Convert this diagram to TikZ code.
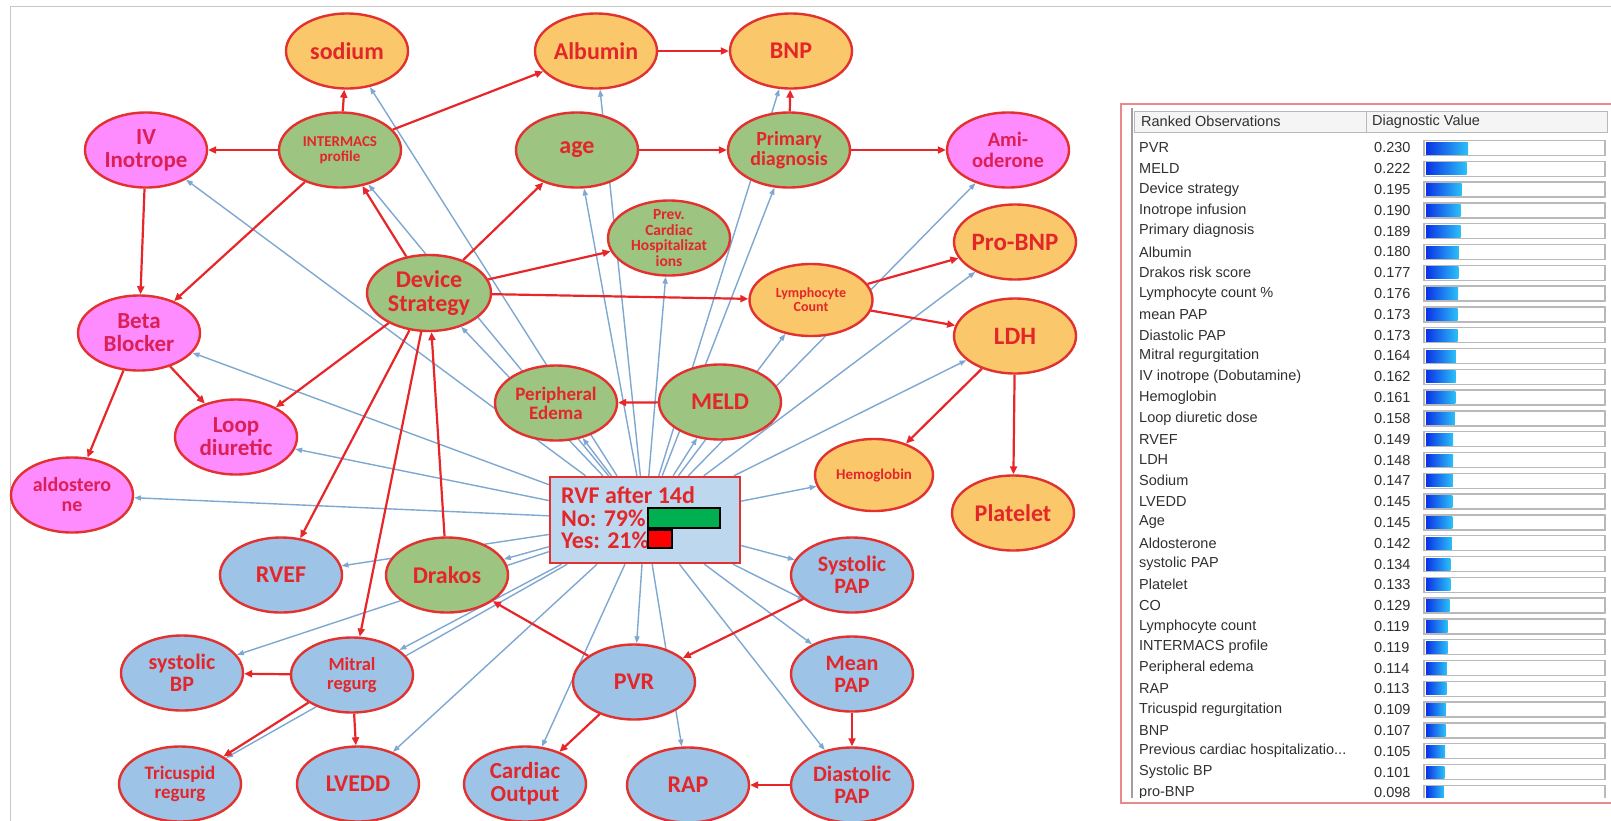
\documentclass[tikz,border=0pt]{standalone}
\usepackage{fontspec}
\newfontfamily\carl{Carlito}
\newfontfamily\tabf{Liberation Sans}
\usetikzlibrary{shapes.geometric,arrows.meta}
\definecolor{nred}{HTML}{E3312F}
\definecolor{tred}{HTML}{E3262A}
\definecolor{tpink}{HTML}{DC1F55}
\definecolor{forange}{HTML}{FAC86B}
\definecolor{fgreen}{HTML}{9DC480}
\definecolor{fpink}{HTML}{FF8CFF}
\definecolor{fblue}{HTML}{9DC3E6}
\definecolor{fbox}{HTML}{BDD7EE}
\definecolor{eblue}{HTML}{7EA8D2}
\definecolor{ered}{HTML}{E8262A}
\definecolor{tabred}{HTML}{E88A8A}
\definecolor{tabtxt}{HTML}{303030}
\definecolor{bar1}{HTML}{0A32E6}
\definecolor{bar2}{HTML}{2CC0F8}
\definecolor{bgreen}{HTML}{00B050}
\pgfdeclarelayer{back}
\pgfdeclarelayer{bg}
\pgfsetlayers{back,bg,main}
\newcommand\fsz[1]{\fontsize{#1}{#1}\selectfont}
\newcommand\tdots{...}
\tikzset{
  obsbase/.style={ellipse, draw=nred, line width=2.4pt, minimum width=122pt, minimum height=75pt,
    inner sep=-20pt, align=center, text=tred, font=\carl\bfseries\fsz{24}},
  nOr/.style={obsbase, fill=forange},
  nGr/.style={obsbase, fill=fgreen},
  nPk/.style={obsbase, fill=fpink, text=tpink},
  nBl/.style={obsbase, fill=fblue},
  fz/.style={font=\carl\bfseries\fsz{#1}},
  redge/.style={draw=ered, line width=2.2pt, -{Triangle[length=8pt,width=7pt]}},
  bedge/.style={draw=eblue, line width=1.4pt, -{Triangle[length=7pt,width=5pt]}},
  tlab/.style={anchor=west, inner sep=0pt, font=\tabf\fontsize{14.5}{15}\selectfont, text=tabtxt},
  barbox/.style={draw=gray!55, line width=1.5pt, fill=white},
  hdr/.style={draw=gray!55, line width=1pt, fill=gray!8},
  rvftxt/.style={anchor=west, inner sep=0pt, font=\carl\bfseries\fsz{24}, text=tred}
}
\begin{document}
\begin{tikzpicture}[x=1pt,y=-1pt]
\useasboundingbox (0,0) rectangle (1611,820);
\begin{pgfonlayer}{back}
\fill[white] (0,0) rectangle (1611,820);
\draw[gray!45, line width=1pt] (10,821) -- (10,6) -- (1612,6);
\end{pgfonlayer}

% nodes
\node[nOr] (sodium) at (347,51) {sodium};
\node[nOr] (albumin) at (596,51) {Albumin};
\node[nOr] (bnp) at (791,51) {BNP};
\node[nPk, fz=23] (ivino) at (146,150) {IV\\Inotrope};
\node[nGr, fz=15] (intermacs) at (340,150) {INTERMACS\\profile};
\node[nGr] (age) at (577,150) {age};
\node[nGr, fz=20] (primary) at (789,150) {Primary\\diagnosis};
\node[nPk, fz=20.5] (amio) at (1008,150) {Ami-\\oderone};
\node[nGr, fz=15.5] (prevcard) at (669,238) {Prev.\\Cardiac\\Hospitalizat\\ions};
\node[nOr, fz=25] (probnp) at (1015,242) {Pro-BNP};
\node[nGr, minimum width=124pt, minimum height=76pt] (device) at (429,293) {Device\\Strategy};
\node[nOr, fz=14, minimum width=123pt, minimum height=72pt] (lympho) at (811,300) {Lymphocyte\\Count};
\node[nPk, fz=23] (beta) at (139,333) {Beta\\Blocker};
\node[nOr, fz=25] (ldh) at (1015,336) {LDH};
\node[nGr, fz=19] (periph) at (556,403) {Peripheral\\Edema};
\node[nGr] (meld) at (720,402) {MELD};
\node[nPk, fz=23] (loop) at (236,437) {Loop\\diuretic};
\node[nOr, fz=15, minimum width=118pt, minimum height=72pt] (hemo) at (874,475) {Hemoglobin};
\node[nPk, fz=20] (aldo) at (72,495) {aldostero\\ne};
\node[nOr] (platelet) at (1013,513) {Platelet};
\node[nBl] (rvef) at (281,575) {RVEF};
\node[nGr] (drakos) at (447,575) {Drakos};
\node[nBl, fz=22] (syspap) at (852,575) {Systolic\\PAP};
\node[nBl, fz=22] (sysbp) at (182,673) {systolic\\BP};
\node[nBl, fz=18.5] (mitral) at (352,675) {Mitral\\regurg};
\node[nBl] (pvr) at (634,682) {PVR};
\node[nBl, fz=22] (meanpap) at (852,674) {Mean\\PAP};
\node[nBl, fz=19] (tricus) at (180,784) {Tricuspid\\regurg};
\node[nBl] (lvedd) at (358,784) {LVEDD};
\node[nBl, fz=23] (cardout) at (525,784) {Cardiac\\Output};
\node[nBl] (rap) at (688,785) {RAP};
\node[nBl, fz=22] (diastpap) at (852,785) {Diastolic\\PAP};

% RVF box
\node[draw=nred, fill=fbox, line width=2.4pt, minimum width=190pt, minimum height=86pt, inner sep=0pt] (rvf) at (645,520) {};
\node[rvftxt] (rvf1) at (561,495) {RVF after 14d};
\node[rvftxt] (rvf2) at (561,518) {No: 79\%};
\node[rvftxt] (rvf3) at (561,540) {Yes: 21\%};
\draw[black, line width=1.5pt, fill=bgreen] (648,508) rectangle (720,528);
\draw[black, line width=1.5pt, fill=red] (648,530) rectangle (672,548);

% blue edges (behind nodes)
\begin{pgfonlayer}{bg}
\foreach \t in {sodium,albumin,bnp,ivino,intermacs,age,primary,amio,prevcard,probnp,device,lympho,beta,ldh,periph,meld,loop,hemo,aldo,rvef,drakos,sysbp,mitral,lvedd,tricus,cardout,pvr,rap,syspap,meanpap,diastpap}
  \draw[bedge] (rvf) -- (\t);
\draw[bedge] (rvf) -- (syspap.208);
\end{pgfonlayer}

% red edges
\draw[redge] (intermacs) -- (sodium);
\draw[redge] (intermacs) -- (albumin);
\draw[redge] (intermacs) -- (ivino);
\draw[redge] (intermacs) -- (beta);
\draw[redge] (ivino) -- (beta);
\draw[redge] (albumin) -- (bnp);
\draw[redge] (age) -- (primary);
\draw[redge] (primary) -- (bnp);
\draw[redge] (primary) -- (amio);
\draw[redge] (device) -- (intermacs);
\draw[redge] (device) -- (age);
\draw[redge] (device) -- (prevcard);
\draw[redge] (device) -- (lympho);
\draw[redge] (device) -- (loop);
\draw[redge] (device) -- (rvef);
\draw[redge] (device) -- (mitral);
\draw[redge] (drakos) -- (device);
\draw[redge] (beta) -- (loop);
\draw[redge] (beta) -- (aldo);
\draw[redge] (lympho) -- (probnp);
\draw[redge] (lympho) -- (ldh);
\draw[redge] (ldh) -- (hemo);
\draw[redge] (ldh) -- (platelet);
\draw[redge] (meld) -- (periph);
\draw[redge] (pvr) -- (drakos);
\draw[redge] (syspap) -- (pvr);
\draw[redge] (pvr) -- (cardout);
\draw[redge] (meanpap) -- (diastpap);
\draw[redge] (diastpap) -- (rap);
\draw[redge] (mitral) -- (sysbp);
\draw[redge] (mitral) -- (tricus);
\draw[redge] (mitral) -- (lvedd);

% ranked observations table
\fill[white] (1121,104) rectangle (1611,803);
\draw[hdr] (1134,111) rectangle (1366,132);
\draw[hdr] (1366,111) rectangle (1607,132);
\node[tlab] (h1) at (1141,121.5) {Ranked Observations};
\node[tlab] (h2) at (1372,121.5) {Diagnostic Value};
\begin{scope}
\clip (1133,134) rectangle (1611,797);
\foreach \lab/\val [count=\i] in {PVR/0.230, MELD/0.222, Device strategy/0.195, Inotrope infusion/0.190,
  Primary diagnosis/0.189, Albumin/0.180, Drakos risk score/0.177, Lymphocyte count \%/0.176,
  mean PAP/0.173, Diastolic PAP/0.173, Mitral regurgitation/0.164, IV inotrope (Dobutamine)/0.162,
  Hemoglobin/0.161, Loop diuretic dose/0.158, RVEF/0.149, LDH/0.148, Sodium/0.147, LVEDD/0.145,
  Age/0.145, Aldosterone/0.142, systolic PAP/0.134, Platelet/0.133, CO/0.129, Lymphocyte count/0.119,
  INTERMACS profile/0.119, Peripheral edema/0.114, RAP/0.113, Tricuspid regurgitation/0.109,
  BNP/0.107, Previous cardiac hospitalizatio\tdots/0.105, Systolic BP/0.101, pro-BNP/0.098}{
  \pgfmathsetmacro\yy{148+(\i-1)*20.8}
  \pgfmathsetmacro\ww{\val*182.6}
  \node[tlab] (tl\i) at (1139,\yy) {\lab};
  \node[tlab] (tv\i) at (1374,\yy) {\val};
  \draw[barbox] (1424,\yy-7.5) rectangle (1605,\yy+7.5);
  \shade[left color=bar1, right color=bar2] (1426,\yy-6) rectangle ({1426+\ww},\yy+6);
}
\end{scope}
\draw[gray!75, line width=1.8pt] (1132,108) -- (1132,798);
\draw[tabred, line width=1.6pt] (1121,104) rectangle (1625,803);
\end{tikzpicture}
\end{document}
